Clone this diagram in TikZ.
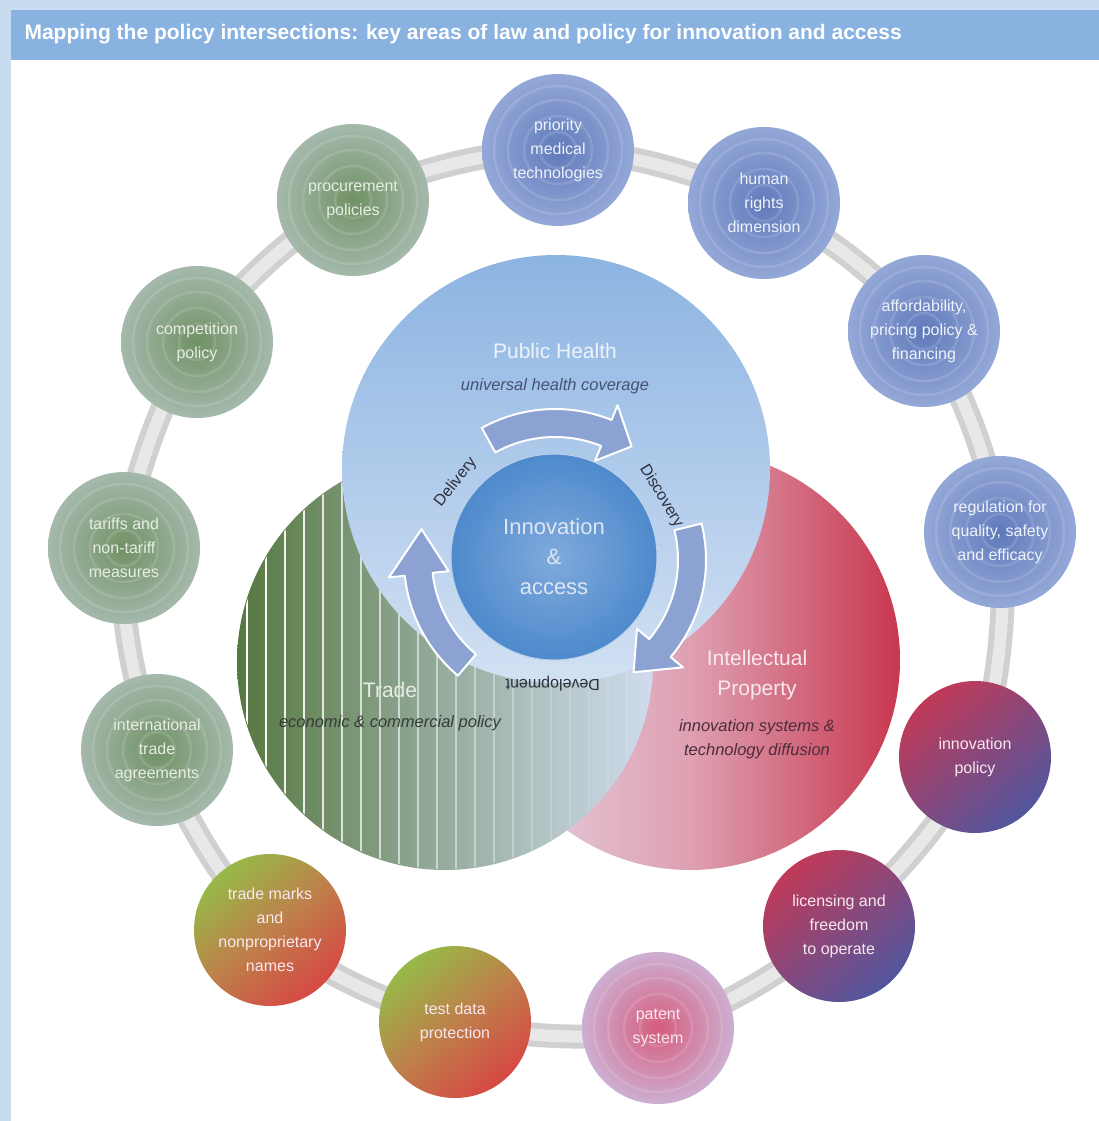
\documentclass[tikz,border=0pt]{standalone}
\usepackage{fontspec}
\setmainfont{Liberation Sans}
\usetikzlibrary{positioning, calc, backgrounds}

\definecolor{barblue}{RGB}{138,178,224}
\definecolor{edgeblue}{RGB}{200,220,240}
\definecolor{phtop}{RGB}{140,180,226}
\definecolor{phbot}{RGB}{210,225,243}
\definecolor{tradegreen}{RGB}{86,120,64}
\definecolor{trademid}{RGB}{150,172,158}
\definecolor{tradepale}{RGB}{208,220,238}
\definecolor{ippale}{RGB}{230,214,228}
\definecolor{ipmid}{RGB}{222,160,178}
\definecolor{ipred}{RGB}{200,55,78}
\definecolor{coreout}{RGB}{78,138,204}
\definecolor{corein}{RGB}{128,170,220}
\definecolor{arrowblue}{RGB}{140,162,210}
\definecolor{bluein}{RGB}{96,122,186}
\definecolor{blueout}{RGB}{148,168,216}
\definecolor{greenin}{RGB}{112,145,100}
\definecolor{greenout}{RGB}{165,185,172}
\definecolor{plumred}{RGB}{192,58,88}
\definecolor{plumblue}{RGB}{82,86,158}
\definecolor{limegreen}{RGB}{150,186,72}
\definecolor{limeorange}{RGB}{190,128,74}
\definecolor{brickred}{RGB}{214,72,68}
\definecolor{pinkin}{RGB}{214,92,124}
\definecolor{pinkout}{RGB}{205,175,210}
\definecolor{ringgray}{RGB}{208,208,208}
\definecolor{ringlight}{RGB}{232,232,232}
\definecolor{labeldark}{RGB}{45,48,62}
\definecolor{phtext}{RGB}{238,243,250}
\definecolor{phsub}{RGB}{70,82,115}
\definecolor{tradetext}{RGB}{232,237,228}
\definecolor{tradesub}{RGB}{55,60,55}
\definecolor{iptext}{RGB}{248,232,238}
\definecolor{ipsub}{RGB}{75,45,60}
\definecolor{coretext}{RGB}{222,230,242}

% curved block arrow round (cyc): tail angle, head base angle, tip angle
\newcommand{\cyclearrow}[3]{%
  \path[cyclearr] ($(cyc)+(#1:151)$) arc[start angle=#1, end angle=#2, radius=151]
    -- ($(cyc)+(#2:167)$) -- ($(cyc)+(#3:137)$) -- ($(cyc)+(#2:107)$)
    -- ($(cyc)+(#2:123)$) arc[start angle=#2, end angle=#1, radius=123] -- cycle;}

\begin{document}
\begin{tikzpicture}[x=1pt, y=-1pt,
  policy/.style={circle, minimum size=152pt, inner sep=0pt, align=center,
    font=\fontsize{16}{24}\selectfont},
  rings/.style={path picture={\foreach \r in {18,34,50,64}
      \draw[white, opacity=.13, line width=2.5pt] (path picture bounding box.center) circle (\r);}},
  bluepol/.style={policy, rings, inner color=bluein, outer color=blueout, text=phtext},
  greenpol/.style={policy, rings, inner color=greenin, outer color=greenout, text=tradetext},
  plumpol/.style={policy, top color=plumred, bottom color=plumblue, shading angle=40, text=iptext},
  limepol/.style={policy, top color=limegreen, bottom color=brickred, middle color=limeorange,
    shading angle=40, text=iptext},
  pinkpol/.style={policy, rings, inner color=pinkin, outer color=pinkout, text=iptext},
  venn/.style={circle, inner sep=0pt},
  ventitle/.style={font=\fontsize{21}{30}\selectfont, align=center},
  vensub/.style={font=\itshape\fontsize{16.5}{24}\selectfont, align=center},
  cyclearr/.style={fill=arrowblue, draw=white, line width=2pt, line join=round},
  cyclelab/.style={font=\fontsize{16}{18}\selectfont, text=labeldark}
]
\useasboundingbox (0,0) rectangle (1099,1121);
\begin{scope}[on background layer]
  \fill[edgeblue] (0,0) rectangle (1099,1121);
  \fill[white] (11,60) rectangle (1099,1121);
\end{scope}

% title bar
\fill[barblue] (11,9) rectangle (1099,60);
\draw[white!55!barblue, line width=1.5pt] (11,9) -- (1099,9);
\node[anchor=west, text=white, font=\bfseries\fontsize{21}{24}\selectfont] (title) at (21,34)
  {Mapping the policy intersections: key areas of law and policy for innovation and access};

% the three policy fields
\node[venn, minimum size=420pt, left color=ippale, right color=ipred, middle color=ipmid] (ip) at (690,660) {};
\node[venn, minimum size=416pt, left color=tradegreen, right color=tradepale, middle color=trademid] (trade) at (445,662) {};
\begin{scope}
  \clip (trade.center) circle (207);
  \foreach \x in {247,266,...,640} {
    \pgfmathsetmacro\op{max(0.15, 1-(\x-247)/380)}
    \draw[white, opacity=\op, line width=1.4pt] (\x,440) -- (\x,880);
  }
\end{scope}
\node[venn, minimum size=428pt, top color=phtop, bottom color=phbot] (ph) at (556,469) {};

\node[ventitle, text=phtext] (phlab) at (555,351) {Public Health};
\node[vensub, text=phsub, below=35pt of phlab.center, anchor=center] {universal health coverage};
\node[ventitle, text=tradetext] (tradelab) at (390,690) {Trade};
\node[vensub, text=tradesub, below=33pt of tradelab.center, anchor=center] {economic \& commercial policy};
\node[ventitle, text=iptext] (iplab) at (757,675) {Intellectual\\Property};
\node[vensub, text=ipsub] at (757,739) {innovation systems \&\\technology diffusion};

% centre and cycle
\node[venn, minimum size=206pt, inner color=corein, outer color=coreout,
  draw=white!60!coreout, line width=1pt] (core) at (554,557) {};
\node[ventitle, text=coretext, font=\fontsize{22}{30}\selectfont] at (core) {Innovation\\\&\\access};

\coordinate (cyc) at (555,560);
\cyclearrow{-119}{-68}{-56}
\cyclearrow{-14}{40}{55}
\cyclearrow{-230}{-186}{-167}
\node[cyclelab, rotate=52] at ($(cyc)+(-142:126)$) {Delivery};
\node[cyclelab, rotate=-59] at ($(cyc)+(-31:124)$) {Discovery};
\node[cyclelab, rotate=180] at ($(cyc)+(91:124)$) {Development};

% ring of policy areas
\node[bluepol] (pmt) at (558,150) {priority\\medical\\technologies};
\node[bluepol] (hrd) at (764,203) {human\\rights\\dimension};
\node[bluepol] (afford) at (924,331) {affordability,\\pricing policy \&\\financing};
\node[bluepol] (regul) at (1000,532) {regulation for\\quality, safety\\and efficacy};
\node[plumpol] (innov) at (975,757) {innovation\\policy};
\node[plumpol] (licens) at (839,926) {licensing and\\freedom\\to operate};
\node[pinkpol] (patent) at (658,1028) {patent\\system};
\node[limepol] (testdata) at (455,1022) {test data\\protection};
\node[limepol] (tmarks) at (270,930) {trade marks\\and\\nonproprietary\\names};
\node[greenpol] (intl) at (157,750) {international\\trade\\agreements};
\node[greenpol] (tariffs) at (124,548) {tariffs and\\non-tariff\\measures};
\node[greenpol] (compet) at (197,342) {competition\\policy};
\node[greenpol] (procure) at (353,200) {procurement\\policies};

\begin{scope}[on background layer]
  \foreach \w/\c in {24/ringgray, 12/ringlight}
    \draw[line width=\w pt, \c] plot[smooth cycle, tension=.55] coordinates {(pmt.center) (hrd.center)
      (afford.center) (regul.center) (innov.center) (licens.center) (patent.center) (testdata.center)
      (tmarks.center) (intl.center) (tariffs.center) (compet.center) (procure.center)};
\end{scope}
\end{tikzpicture}
\end{document}
